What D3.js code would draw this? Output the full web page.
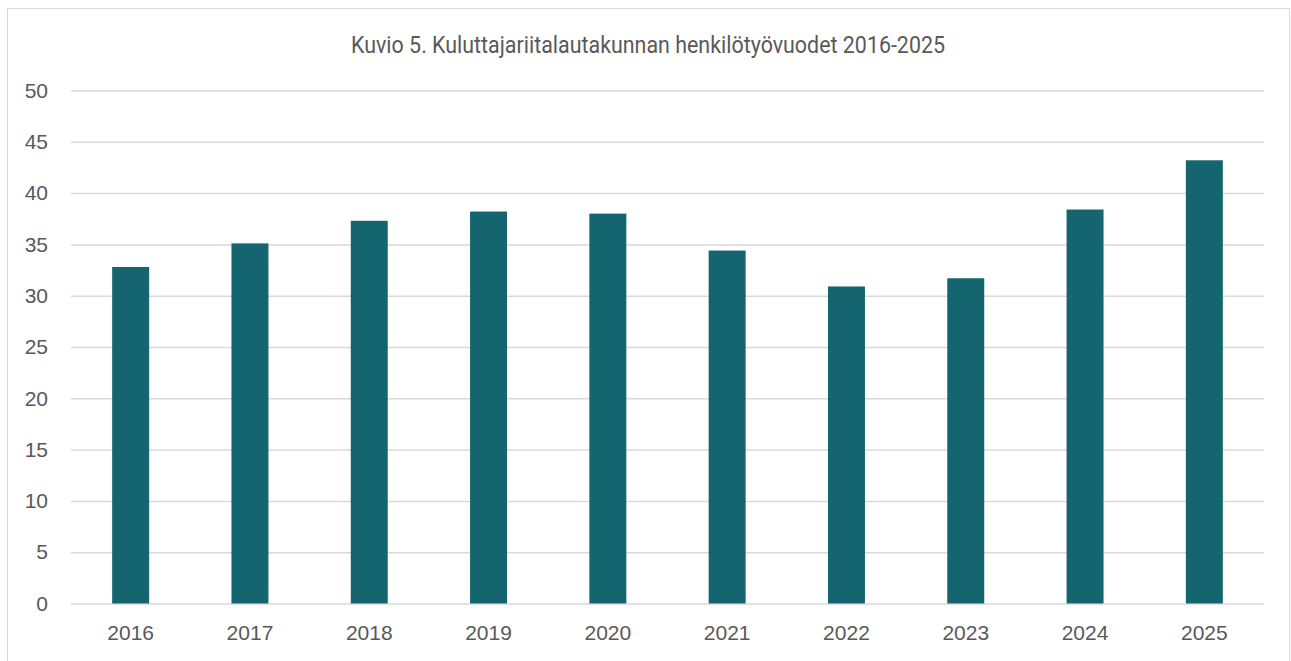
<!DOCTYPE html>
<html>
<head>
<meta charset="utf-8">
<script src="https://cdn.jsdelivr.net/npm/d3@7"></script>
<style>
  body { margin: 0; background: #fff; }
  svg { display: block; }
  .title { font-family: "Liberation Sans Narrow", "Roboto", sans-serif; fill: #595959; }
  .tick text { font-family: "Liberation Sans", Arial, sans-serif; fill: #595959; }
</style>
</head>
<body>
<div id="chart"></div>
<script>
// chart data
const years = ["2016", "2017", "2018", "2019", "2020", "2021", "2022", "2023", "2024", "2025"];
const personYears = [32.8, 35.1, 37.3, 38.2, 38.0, 34.4, 30.9, 31.7, 38.4, 43.2];
const yTicks = [0, 5, 10, 15, 20, 25, 30, 35, 40, 45, 50];
const chartTitle = "Kuvio 5. Kuluttajariitalautakunnan henkilötyövuodet 2016-2025";

const width = 1291, height = 661;
const margin = {top: 90.5, right: 27, bottom: 57.5, left: 71};

const svg = d3.select("#chart").append("svg")
    .attr("width", width)
    .attr("height", height);

// outer frame
svg.append("rect")
    .attr("x", 7.5).attr("y", 8.5)
    .attr("width", 1282).attr("height", 670)
    .attr("fill", "none")
    .attr("stroke", "#d9d9d9")
    .attr("stroke-width", 1);

const x = d3.scaleBand()
    .domain(years)
    .range([margin.left, width - margin.right])
    .paddingInner(0.69)
    .paddingOuter(0.345);

const y = d3.scaleLinear()
    .domain([0, 50])
    .range([height - margin.bottom, margin.top]);

// gridlines + y labels
const yAxis = svg.append("g")
    .attr("transform", "translate(" + margin.left + ",0)")
    .call(d3.axisLeft(y).tickValues(yTicks).tickSize(-(width - margin.left - margin.right)).tickPadding(23));
yAxis.select(".domain").remove();
yAxis.selectAll(".tick line")
    .attr("stroke", "#d9d9d9")
    .attr("stroke-width", 1.5);
yAxis.selectAll(".tick text")
    .style("font-size", "21px");

// bars
svg.append("g").selectAll("rect")
    .data(years)
    .enter().append("rect")
    .attr("x", d => x(d))
    .attr("width", x.bandwidth())
    .attr("y", (d, i) => y(personYears[i]))
    .attr("height", (d, i) => y(0) - y(personYears[i]))
    .attr("fill", "#156570");

// x labels
const xAxis = svg.append("g")
    .attr("transform", "translate(0," + y(0) + ")")
    .call(d3.axisBottom(x).tickSize(0).tickPadding(22));
xAxis.select(".domain").remove();
xAxis.selectAll(".tick text")
    .style("font-size", "21px");

// title
svg.append("text")
    .attr("class", "title")
    .attr("x", 648)
    .attr("y", 53)
    .attr("text-anchor", "middle")
    .attr("textLength", 594)
    .attr("lengthAdjust", "spacingAndGlyphs")
    .style("font-size", "24px")
    .text(chartTitle);
</script>
</body>
</html>
